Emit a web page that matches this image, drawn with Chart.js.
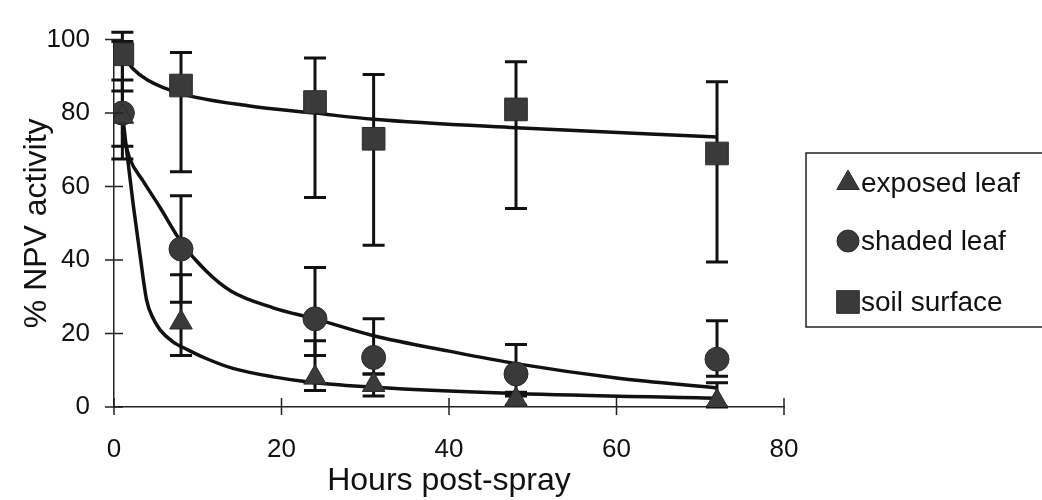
<!DOCTYPE html>
<html>
<head>
<meta charset="utf-8">
<script src="https://cdn.jsdelivr.net/npm/chart.js@4.4.1/dist/chart.umd.min.js"></script>
<style>
  html, body { margin: 0; padding: 0; background: #fff; }
  #wrap { width: 1042px; height: 500px; }
</style>
</head>
<body>
<div id="wrap"><canvas id="npvChart" width="1042" height="500"></canvas></div>
<script>
// sampling times
const hours = [1, 8, 24, 31, 48, 72];

// means and error bar ends
const exposedMean = [79, 23, 8, 6, 2, 1.5];
const exposedLow  = [71, 14, 4.5, 3, 0.5, 0];
const exposedHigh = [99.5, 36, 18, 9, 4, 6.6];

const shadedMean = [80, 43, 24, 13.5, 9, 13];
const shadedLow  = [67.5, 28.5, 14, 9, 3, 8.4];
const shadedHigh = [89, 57.5, 38, 24, 17, 23.5];

const soilMean = [96, 87.5, 83, 73, 81, 69];
const soilLow  = [86, 64, 57, 44, 54, 39.5];
const soilHigh = [102, 96.5, 95, 90.5, 94, 88.5];

// fitted curves, read point by point
const exposedFitX = [1, 1.5, 2.3, 3.1, 3.9, 4.7, 5.5, 7, 8.7, 11, 14.2, 19, 24, 31, 48, 72];
const exposedFitY = [80, 70, 55, 41.5, 29, 24, 21, 17.8, 15.7, 13.2, 10.5, 8.2, 6.6, 5.4, 3.7, 2.4];
const shadedFitX = [1, 1.9, 3.5, 5.5, 8, 11, 14, 19, 24, 31, 40, 48, 60, 72];
const shadedFitY = [75, 67.5, 61.4, 54.3, 45, 37, 31.5, 27, 24, 19.4, 15.2, 11.8, 7.9, 5.2];
const soilFitX = [1, 2.3, 4, 8, 16, 24, 31, 48, 72];
const soilFitY = [96, 92, 89, 85.3, 82, 80, 78.3, 76, 73.5];

const xTicks = [0, 20, 40, 60, 80];
const yTicks = [0, 20, 40, 60, 80, 100];

const labels = ['exposed leaf', 'shaded leaf', 'soil surface'];
const pointStyles = ['triangle', 'circle', 'rect'];
const pointSizes = [13, 12, 16];

const FONT = "'Liberation Sans', Arial, Helvetica, sans-serif";
const MARK = '#3a3a3a';
const INK = '#111';

const toXY = (xs, ys) => xs.map((x, i) => ({x: x, y: ys[i]}));

const means = [exposedMean, shadedMean, soilMean];
const lows = [exposedLow, shadedLow, soilLow];
const highs = [exposedHigh, shadedHigh, soilHigh];
const fits = [[exposedFitX, exposedFitY], [shadedFitX, shadedFitY], [soilFitX, soilFitY]];

const datasets = [];
fits.forEach((f, i) => {
  datasets.push({
    label: labels[i] + ' fit',
    type: 'line',
    data: toXY(f[0], f[1]),
    borderColor: INK,
    borderWidth: 3.5,
    pointRadius: 0,
    fill: false,
    cubicInterpolationMode: 'monotone',
    order: 2
  });
});
means.forEach((m, i) => {
  datasets.push({
    label: labels[i],
    type: 'scatter',
    data: toXY(hours, m),
    pointStyle: pointStyles[i],
    pointRadius: pointSizes[i],
    backgroundColor: MARK,
    borderColor: '#2a2a2a',
    borderWidth: 1,
    showLine: false,
    order: 1,
    isMarker: true
  });
});

// error bars behind the markers
const errorBars = {
  id: 'errorBars',
  beforeDatasetsDraw(chart) {
    const {ctx, scales: {x, y}} = chart;
    ctx.save();
    ctx.strokeStyle = INK;
    ctx.lineWidth = 3;
    for (let s = 0; s < means.length; s++) {
      hours.forEach((h, i) => {
        const px = x.getPixelForValue(h);
        const top = y.getPixelForValue(highs[s][i]);
        const bot = y.getPixelForValue(lows[s][i]);
        ctx.beginPath();
        ctx.moveTo(px, top); ctx.lineTo(px, bot);
        ctx.moveTo(px - 11, top); ctx.lineTo(px + 11, top);
        ctx.moveTo(px - 11, bot); ctx.lineTo(px + 11, bot);
        ctx.stroke();
      });
    }
    ctx.restore();
  }
};

// tick marks crossing both axes
const crossTicks = {
  id: 'crossTicks',
  afterDraw(chart) {
    const {ctx, scales: {x, y}} = chart;
    const x0 = x.getPixelForValue(0);
    const y0 = y.getPixelForValue(0);
    ctx.save();
    ctx.strokeStyle = '#222';
    ctx.lineWidth = 1.5;
    ctx.beginPath();
    yTicks.forEach(v => {
      const py = y.getPixelForValue(v);
      ctx.moveTo(x0 - 9, py); ctx.lineTo(x0 + 9, py);
    });
    xTicks.forEach(v => {
      const px = x.getPixelForValue(v);
      ctx.moveTo(px, y0 - 9); ctx.lineTo(px, y0 + 8);
    });
    ctx.stroke();
    ctx.restore();
  }
};

// boxed legend on the right, running off the edge
const boxLegend = {
  id: 'boxLegend',
  afterDraw(chart) {
    const ctx = chart.ctx;
    ctx.save();
    ctx.strokeStyle = '#222';
    ctx.lineWidth = 1.5;
    ctx.strokeRect(806, 153, 260, 174);
    ctx.font = '28px ' + FONT;
    ctx.textBaseline = 'middle';
    const rows = [183, 241, 302];
    chart.data.datasets.filter(d => d.isMarker).forEach((d, i) => {
      ctx.fillStyle = MARK;
      ctx.strokeStyle = '#2a2a2a';
      ctx.lineWidth = 1;
      const r = d.pointStyle === 'circle' ? 11 : d.pointRadius;
      Chart.helpers.drawPoint(ctx, {pointStyle: d.pointStyle, radius: r, rotation: 0, borderWidth: 1}, 848, rows[i]);
      ctx.fillStyle = INK;
      ctx.fillText(d.label, 861, rows[i] + 1);
    });
    ctx.restore();
  }
};

new Chart(document.getElementById('npvChart'), {
  data: {datasets: datasets},
  options: {
    responsive: false,
    animation: false,
    layout: {padding: {top: 26, right: 258, bottom: 0, left: 0}},
    plugins: {legend: {display: false}, tooltip: {enabled: false}},
    scales: {
      x: {
        type: 'linear',
        min: 0, max: 80,
        afterFit(scale) { scale.height = 93; },
        afterBuildTicks(scale) { scale.ticks = xTicks.map(v => ({value: v})); },
        grid: {display: false, drawTicks: false},
        border: {display: true, color: '#222', width: 1.5},
        ticks: {color: INK, padding: 27, font: {family: FONT, size: 26}, maxRotation: 0},
        title: {display: true, text: 'Hours post-spray', color: INK, font: {family: FONT, size: 32}, padding: {top: 0, bottom: 0}}
      },
      y: {
        type: 'linear',
        min: 0, max: 100,
        afterFit(scale) { scale.width = 114; },
        afterBuildTicks(scale) { scale.ticks = yTicks.map(v => ({value: v})); },
        grid: {display: false, drawTicks: false},
        border: {display: true, color: '#222', width: 1.5},
        ticks: {color: INK, padding: 24, font: {family: FONT, size: 26}},
        title: {display: true, text: '% NPV activity', color: INK, font: {family: FONT, size: 32}, padding: {top: 18, bottom: 0}}
      }
    }
  },
  plugins: [errorBars, crossTicks, boxLegend]
});
</script>
</body>
</html>
